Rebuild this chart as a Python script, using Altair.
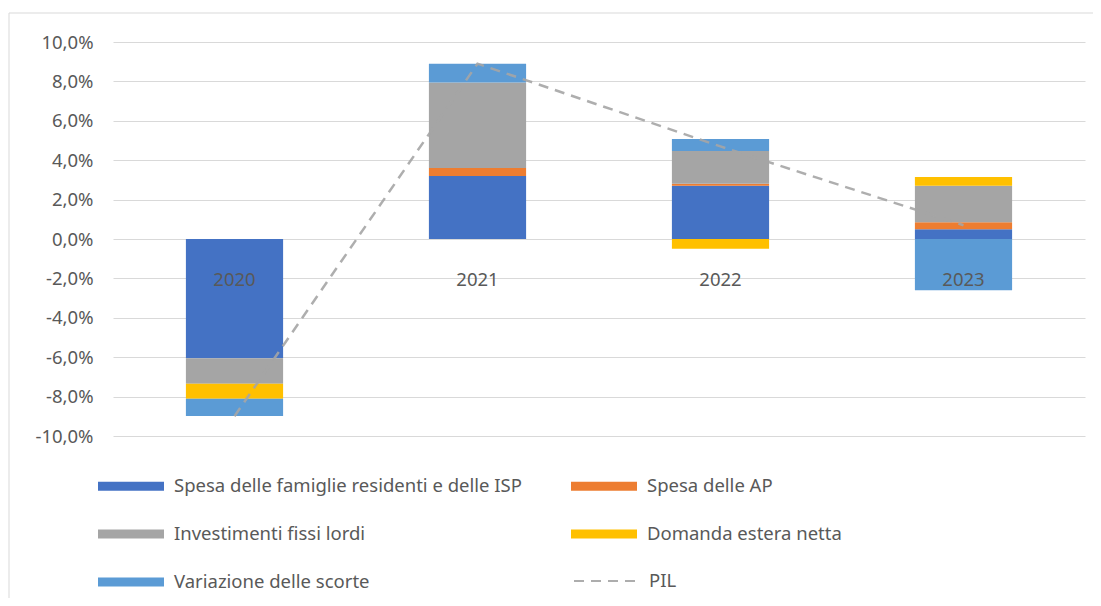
import altair as alt
import pandas as pd

years = ["2020", "2021", "2022", "2023"]
serie = [
    "Spesa delle famiglie residenti e delle ISP",
    "Spesa delle AP",
    "Investimenti fissi lordi",
    "Domanda estera netta",
    "Variazione delle scorte",
]
famiglie = [-6.05, 3.2, 2.7, 0.5]
spesa_ap = [0.0, 0.4, 0.1, 0.35]
investimenti = [-1.3, 4.35, 1.67, 1.85]
domanda_estera = [-0.76, 0.0, -0.5, 0.45]
scorte = [-0.87, 0.95, 0.61, -2.6]
pil = [-9.0, 8.9, 4.7, 0.7]
colori = ["#4472C4", "#ED7D31", "#A5A5A5", "#FFC000", "#5B9BD5"]
y_ticks = [-10, -8, -6, -4, -2, 0, 2, 4, 6, 8, 10]

valori = [famiglie, spesa_ap, investimenti, domanda_estera, scorte]
rows = []
for i, (s, vals) in enumerate(zip(serie, valori)):
    for y, v in zip(years, vals):
        rows.append({"anno": y, "serie": s, "valore": v, "ordine": i})
bars_df = pd.DataFrame(rows)
pil_df = pd.DataFrame({"anno": years, "valore": pil, "serie": ["PIL"] * 4})
lab_df = pd.DataFrame({"anno": years})
one = pd.DataFrame({"k": [0]})

FONT = "Noto Sans"
TXT = "#595959"
FS = 18.5

x_enc = alt.X("anno:N", scale=alt.Scale(domain=years, paddingInner=0.6, paddingOuter=0.3), axis=None)
y_scale = alt.Scale(domain=[-10, 10], nice=False)
y_axis = alt.Axis(
    values=y_ticks,
    tickCount=11,
    labelExpr="replace(replace(format(datum.value, '.1f'), '.', ','), '\u2212', '-') + '%'",
    title=None,
    domain=False,
    ticks=False,
    grid=True,
    gridColor="#D9D9D9",
    labelColor=TXT,
    labelFont=FONT,
    labelFontSize=FS,
    labelPadding=20,
    labelOverlap=False,
)

bars = alt.Chart(bars_df).mark_bar().encode(
    x=x_enc,
    y=alt.Y("sum(valore):Q", scale=y_scale, stack="zero", axis=y_axis),
    color=alt.Color(
        "serie:N",
        scale=alt.Scale(domain=serie, range=colori),
        legend=alt.Legend(
            title=None,
            orient="none",
            direction="horizontal",
            legendX=-15,
            legendY=411,
            columns=2,
            columnPadding=49,
            rowPadding=5,
            symbolType="M-1,-0.14L1,-0.14L1,0.14L-1,0.14Z",
            symbolSize=4356,
            symbolStrokeWidth=0,
            labelFont=FONT,
            labelFontSize=FS,
            labelColor=TXT,
            labelOffset=10,
            labelLimit=600,
        ),
    ),
    order=alt.Order("ordine:Q"),
)

line = alt.Chart(pil_df).mark_line(color="#A5A5A5", strokeWidth=2.5, opacity=0.9).encode(
    x=x_enc,
    y=alt.Y("valore:Q", scale=y_scale, axis=y_axis),
    strokeDash=alt.StrokeDash(
        "serie:N",
        scale=alt.Scale(domain=["PIL"], range=[[10, 7]]),
        legend=alt.Legend(
            title=None,
            orient="none",
            legendX=460,
            legendY=505,
            symbolType="M-1,0L1,0",
            symbolSize=4356,
            symbolStrokeColor="#A5A5A5",
            symbolStrokeWidth=2,
            labelFont=FONT,
            labelFontSize=FS,
            labelColor=TXT,
            labelOffset=8,
        ),
    ),
)

labels = alt.Chart(lab_df).mark_text(
    font=FONT, fontSize=FS, color=TXT, dy=41
).encode(x=x_enc, y=alt.datum(0), text="anno:N")

border_top = alt.Chart(one).mark_rule(color="#D9D9D9", strokeWidth=1).encode(
    x=alt.value(-104), x2=alt.value(990), y=alt.value(-29)
)
border_left = alt.Chart(one).mark_rule(color="#D9D9D9", strokeWidth=1).encode(
    x=alt.value(-104), y=alt.value(-29), y2=alt.value(560)
)

chart = alt.layer(border_top, border_left, bars, line, labels).resolve_scale(color="independent").properties(
    width=972,
    height=394,
    background="white",
    padding={"left": 105, "top": 34, "right": 8, "bottom": 162},
    autosize=alt.AutoSizeParams(type="none"),
).configure_view(stroke=None)

chart.save("out.html", embed_options={"renderer": "svg", "actions": False})
